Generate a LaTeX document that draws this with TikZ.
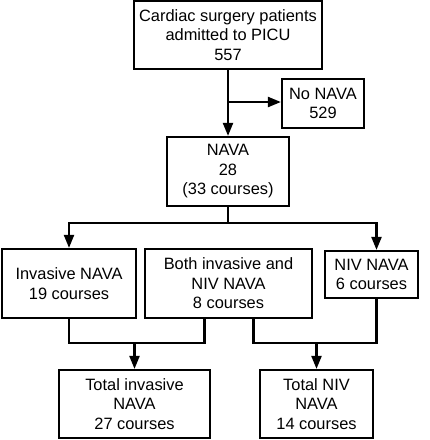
\documentclass[tikz,border=0pt]{standalone}
\usepackage{fontspec}
\setmainfont{Liberation Sans}
\usetikzlibrary{arrows.meta}

\begin{document}
\begin{tikzpicture}[x=1pt, y=-1pt,
    box/.style={draw, line width=2.2pt, align=center, inner sep=2pt,
                font=\fontsize{16.4}{19.5}\selectfont},
    arr/.style={line width=2.2pt, -{Triangle[length=13pt, width=10pt]}},
    lin/.style={line width=2.2pt}]

  \useasboundingbox (0,0) rectangle (430,440);

  % Draw the boxes
  \node[box, minimum width=188pt, minimum height=68pt] (top) at (228,35)
    {Cardiac surgery patients\\admitted to PICU\\557};
  \node[box, minimum width=82pt, minimum height=49pt] (nonava) at (323,103.5)
    {No NAVA\\529};
  \node[box, minimum width=122pt, minimum height=69pt] (nava) at (228,171.5)
    {NAVA\\28\\(33 courses)};

  \node[box, minimum width=134pt, minimum height=69pt] (inv) at (69,283.5)
    {Invasive NAVA\\19 courses};
  \node[box, minimum width=167pt, minimum height=69pt] (both) at (228.5,283.5)
    {Both invasive and\\NIV NAVA\\8 courses};
  \node[box, minimum width=93pt, minimum height=47pt] (niv) at (371.5,274.5)
    {NIV NAVA\\6 courses};

  \node[box, minimum width=151pt, minimum height=68pt] (totinv) at (134.5,404)
    {Total invasive\\NAVA\\27 courses};
  \node[box, minimum width=113pt, minimum height=68pt] (totniv) at (316.5,404)
    {Total NIV\\NAVA\\14 courses};

  % Top split
  \draw[arr] (top) -- (nava);
  \coordinate (split) at (228,102);
  \draw[arr] (split) -- (split -| nonava.west);

  % NAVA branches
  \draw[lin] (nava.south) -- ++(0,16) coordinate (hub);
  \draw[arr] (hub) -| (inv.north);
  \draw[arr] (hub) -| ([xshift=5pt]niv.north);

  % Invasive total
  \draw[lin] (inv.south) -- ++(0,24) coordinate (m1) -| ([xshift=-24pt]both.south);
  \draw[arr] (m1 -| totinv.north) -- (totinv.north);

  % NIV total
  \draw[lin] ([xshift=25pt]both.south) -- ++(0,24) coordinate (m2) -| ([xshift=5pt]niv.south);
  \draw[arr] (m2 -| totniv.north) -- (totniv.north);

\end{tikzpicture}
\end{document}
